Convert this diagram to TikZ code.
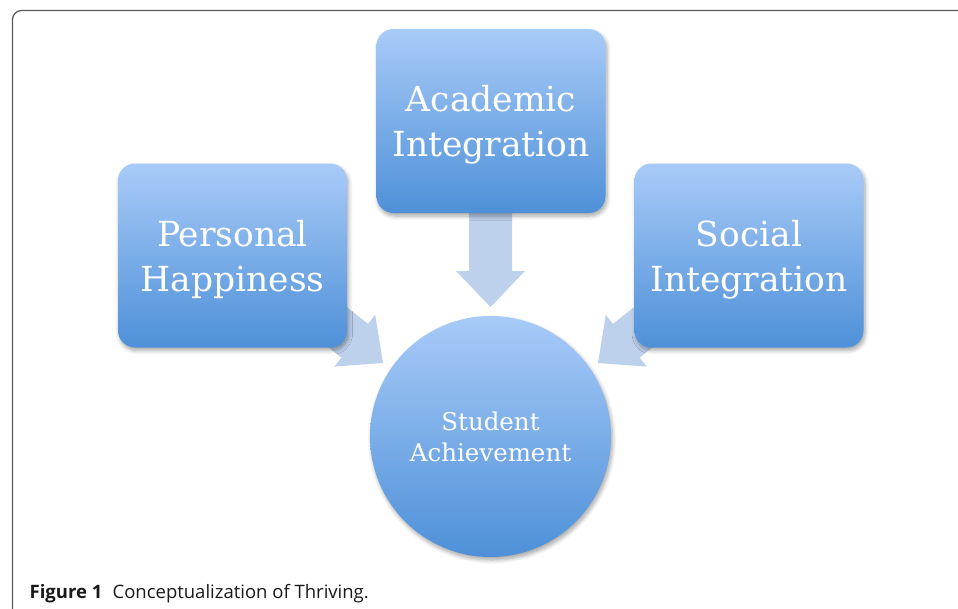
\documentclass[tikz,border=0pt]{standalone}
\usepackage{fontspec}
\newfontfamily\boxfont{DejaVu Serif}
\newfontfamily\capfont{Open Sans}
\usetikzlibrary{shadows,shadows.blur}
\definecolor{boxtop}{HTML}{A8CBF8}
\definecolor{boxbot}{HTML}{4E90D8}
\definecolor{arrowc}{HTML}{BDD0EC}
\definecolor{framec}{HTML}{5A5A5A}
\tikzset{
  softshadow/.style={blur shadow={shadow xshift=1.5pt, shadow yshift=-3pt, shadow blur steps=6, shadow opacity=35, shadow blur radius=4pt}},
  blockbox/.style={rounded corners=17pt, minimum width=229pt, minimum height=184pt,
    top color=boxtop, bottom color=boxbot, text=white, align=center,
    inner sep=0pt, text depth=0pt, font=\boxfont\fontsize{34.5}{45}\selectfont, softshadow},
  hubcircle/.style={circle, minimum size=241pt, top color=boxtop, bottom color=boxbot,
    text=white, align=center, inner sep=0pt, text depth=0pt, font=\boxfont\fontsize{24.5}{31}\selectfont, softshadow},
  blockarrow/.style={fill=arrowc, draw=none},
}
\begin{document}
\begin{tikzpicture}[x=1pt,y=-1pt]
\useasboundingbox (0,0) rectangle (958,608);
% frame
\draw[framec, line width=1.3pt, rounded corners=9pt] (12.5,640) |- (990,10.5);
% arrows (behind boxes)
\coordinate (tipL) at (383,363);
\coordinate (tipR) at (598,363);
\coordinate (tipD) at (490.5,307);
\begin{scope}[shift={(tipD)}, rotate=-90]
  \fill[blockarrow] (-110,-21.5) -- (-36,-21.5) -- (-36,-34.5) -- (0,0) -- (-36,34.5) -- (-36,21.5) -- (-110,21.5) -- cycle;
\end{scope}
\begin{scope}[shift={(tipL)}, rotate=-38.3]
  \fill[blockarrow] (-110,-21.5) -- (-36,-21.5) -- (-36,-33) -- (0,0) -- (-36,33) -- (-36,21.5) -- (-110,21.5) -- cycle;
\end{scope}
\begin{scope}[shift={(tipR)}, rotate=-141.7]
  \fill[blockarrow] (-110,-21.5) -- (-36,-21.5) -- (-36,-33) -- (0,0) -- (-36,33) -- (-36,21.5) -- (-110,21.5) -- cycle;
\end{scope}
% boxes
\node[blockbox] (acad) at (491,121) {Academic\\Integration};
\node[blockbox] (pers) at (232.5,255.5) {Personal\\Happiness};
\node[blockbox] (soc) at (749,255.5) {Social\\Integration};
\node[hubcircle] (stud) at (490.5,436.5) {Student\\Achievement};
% caption
\node[anchor=base west, inner sep=0pt, font=\capfont\fontsize{18.5}{20}\selectfont, text=black!90] (cap) at (29.5,598)
  {\textbf{Figure 1}\hspace{0.55em}Conceptualization of Thriving.};
\end{tikzpicture}
\end{document}
